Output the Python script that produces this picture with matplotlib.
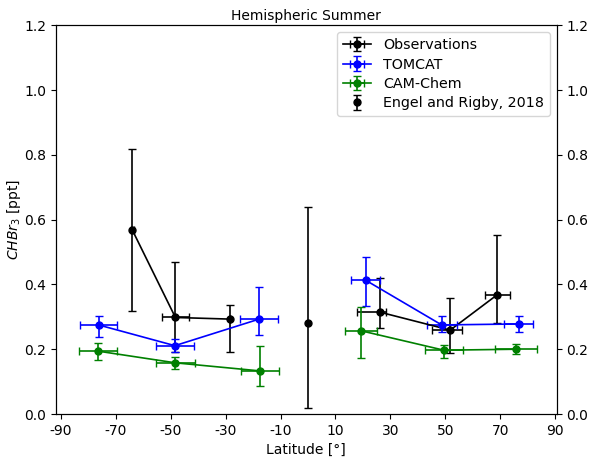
import numpy as np
import matplotlib
matplotlib.use("Agg")
import matplotlib.pyplot as plt

nan = np.nan

# Observations (NaN separates the two hemispheres)
obs_lat = [-64.0, -48.3, -28.4, nan, 26.4, 51.8, 68.9]
obs_val = [0.568, 0.298, 0.293, nan, 0.314, 0.259, 0.368]
obs_yerr_lo = [0.249, 0.106, 0.102, nan, 0.050, 0.070, 0.088]
obs_yerr_hi = [0.249, 0.172, 0.043, nan, 0.105, 0.100, 0.186]
obs_xerr_lo = [0.5, 5.0, 0.0, nan, 8.5, 6.7, 4.6]
obs_xerr_hi = [0.5, 5.0, 0.0, nan, 1.9, 4.4, 4.8]

# TOMCAT model
tom_lat = [-76.3, -48.5, -17.8, nan, 21.0, 48.7, 76.7]
tom_val = [0.275, 0.211, 0.293, nan, 0.413, 0.275, 0.278]
tom_yerr_lo = [0.037, 0.020, 0.050, nan, 0.080, 0.022, 0.025]
tom_yerr_hi = [0.028, 0.022, 0.098, nan, 0.072, 0.028, 0.025]
tom_xerr = [6.9, 6.8, 6.9, nan, 5.3, 5.4, 5.4]

# CAM-Chem model
cam_lat = [-76.4, -48.3, -17.4, nan, 19.3, 49.5, 75.8]
cam_val = [0.194, 0.158, 0.133, nan, 0.257, 0.197, 0.200]
cam_yerr_lo = [0.027, 0.018, 0.048, nan, 0.084, 0.024, 0.016]
cam_yerr_hi = [0.024, 0.019, 0.078, nan, 0.074, 0.015, 0.015]
cam_xerr = [7.0, 7.0, 7.0, nan, 6.0, 7.0, 7.7]

# Engel and Rigby, 2018 (tropical value and range)
er_lat = [0.0]
er_val = [0.28]
er_lo = [0.26]
er_hi = [0.36]

xticks = [-90, -70, -50, -30, -10, 10, 30, 50, 70, 90]
yticks = [0.0, 0.2, 0.4, 0.6, 0.8, 1.0, 1.2]

fs = 10
fig = plt.figure(figsize=(5.9, 4.59), dpi=100)
ax = fig.add_axes([0.0949, 0.098, 0.8487, 0.8469])

common = dict(marker="o", markersize=5, capsize=3, elinewidth=1.2, linewidth=1.2)

ax.errorbar(obs_lat, obs_val, yerr=[obs_yerr_lo, obs_yerr_hi],
            xerr=[obs_xerr_lo, obs_xerr_hi], color="black",
            label="Observations", **common)
ax.errorbar(tom_lat, tom_val, yerr=[tom_yerr_lo, tom_yerr_hi],
            xerr=tom_xerr, color="blue", label="TOMCAT", **common)
ax.errorbar(cam_lat, cam_val, yerr=[cam_yerr_lo, cam_yerr_hi],
            xerr=cam_xerr, color="green", label="CAM-Chem", **common)
ax.errorbar(er_lat, er_val, yerr=[er_lo, er_hi], color="black",
            linestyle="none", marker="o", markersize=5, capsize=3,
            elinewidth=1.2, label="Engel and Rigby, 2018")

ax.set_xlim(-91.8, 90.6)
ax.set_ylim(0.0, 1.2)
ax.set_xticks(xticks)
ax.set_xticklabels([str(t) for t in xticks], fontsize=fs)
ax.set_yticks(yticks)
ax.set_yticklabels([f"{t:.1f}" for t in yticks], fontsize=fs)
ax.set_xlabel("Latitude [°]", fontsize=fs)
ax.set_ylabel("$CHBr_3$ [ppt]", fontsize=fs, labelpad=1)
ax.set_title("Hemispheric Summer", fontsize=fs, pad=4)

ax.legend(loc="upper right", fontsize=10.3, handlelength=2.0,
          borderaxespad=0.5, labelspacing=0.38)

ax2 = ax.twinx()
ax2.set_ylim(0.0, 1.2)
ax2.set_yticks(yticks)
ax2.set_yticklabels([f"{t:.1f}" for t in yticks], fontsize=fs)

fig.savefig("out.png", dpi=100)
